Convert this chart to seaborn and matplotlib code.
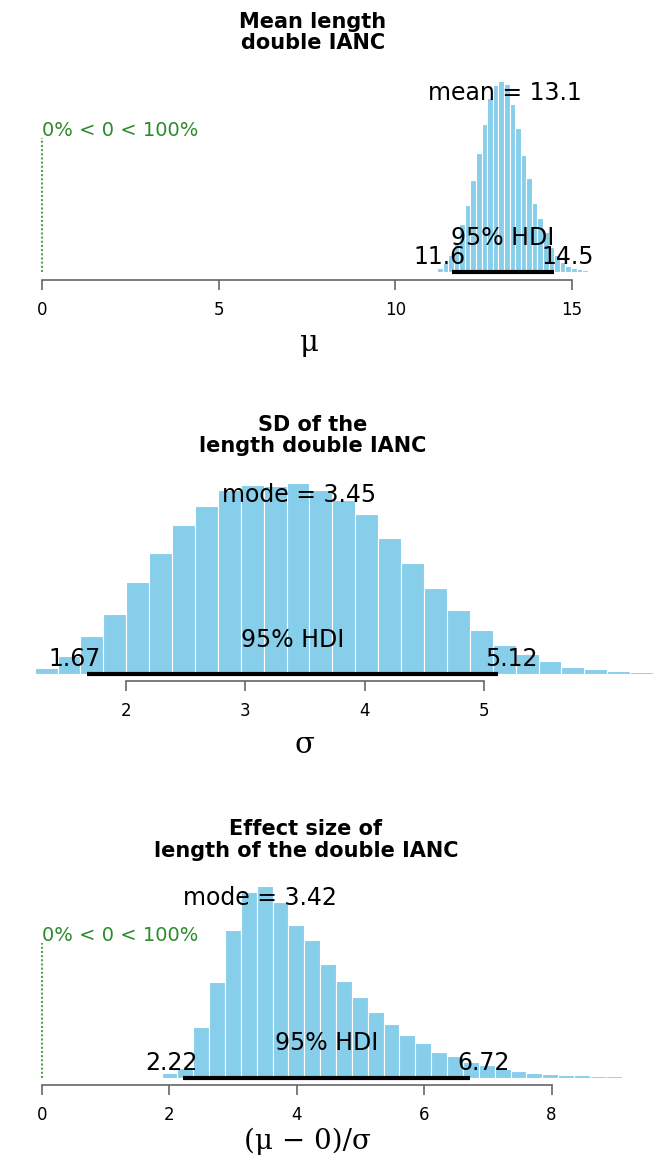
import matplotlib
matplotlib.use('Agg')
import matplotlib.pyplot as plt
import seaborn as sns
import numpy as np
import pandas as pd

# posterior histograms -- bar heights (relative density units)
mu_bin_start = 10.864
mu_bin_width = 0.158
mu_heights = [1, 1.5, 4, 9, 17, 30, 48, 67, 92, 119, 148, 174, 187, 191, 188, 168,
              144, 117, 94, 69, 54, 40, 25, 17, 10, 6, 4, 3, 2.2, 1.5, 1]
mu_mean = 13.1
mu_hdi = [11.6, 14.5]
mu_ticks = [0, 5, 10, 15]

sigma_bin_start = 1.042
sigma_bin_width = 0.192
sigma_heights = [1, 5.5, 18, 38, 59.5, 92, 121, 149, 167.5, 183.5, 189, 187.5, 190.5,
                 183.5, 174, 159.5, 136, 111, 86, 64, 43.5, 28.5, 20, 13, 7, 4.5, 2.2,
                 1.2, 0.8]
sigma_mode = 3.45
sigma_hdi = [1.67, 5.12]
sigma_ticks = [2, 3, 4, 5]

es_bin_start = 1.628
es_bin_width = 0.249
es_heights = [1, 5, 10, 51, 96, 148, 186, 192, 176, 152.5, 137.5, 113.5, 96.5, 81, 66,
              53.5, 42.5, 35, 26, 22, 16, 12.5, 9, 6.5, 5, 4, 3, 2.3, 1.7, 1.2, 0.8, 0.5]
es_mode = 3.42
es_hdi = [2.22, 6.72]
es_ticks = [0, 2, 4, 6, 8]

comp_val = 0
comp_text = '0% < 0 < 100%'

sns.set_theme(style='white')
plt.rcParams['font.family'] = ['DejaVu Sans']
plt.rcParams['text.color'] = 'black'
plt.rcParams['axes.labelcolor'] = 'black'

BAR = '#87CEEB'
GREEN = '#2b8a2b'
AXCOL = '#666666'
W, H = 656, 1160

fig = plt.figure(figsize=(W / 100, H / 100), dpi=100)


def panel(top_px, axis_px, base_off, xlim, bin_start, bin_width, heights, ticks,
          ct_label, ct_val, hdi, title, title_px, title_x, xlabel, xlabel_px, xlabel_x,
          xlabel_size, comp=False):
    ax = fig.add_axes([0, 1 - axis_px / H, 1, (axis_px - top_px) / H])
    edges = bin_start + bin_width * np.arange(len(heights) + 1)
    d = pd.DataFrame({'x': edges[:-1] + bin_width / 2, 'h': heights})
    sns.histplot(data=d, x='x', weights='h', bins=list(edges), color=BAR,
                 edgecolor='white', linewidth=0.8, alpha=1, ax=ax)
    hmax = max(heights)
    ax.set_xlim(xlim)
    ax.set_ylim(-base_off, axis_px - top_px - base_off)
    ax.set_yticks([])
    ax.set_ylabel('')
    for s in ['left', 'right', 'top']:
        ax.spines[s].set_visible(False)
    ax.spines['bottom'].set_bounds(ticks[0], ticks[-1])
    ax.spines['bottom'].set_color(AXCOL)
    ax.spines['bottom'].set_linewidth(1.2)
    ax.set_xticks(ticks)
    ax.set_xticklabels([str(t) for t in ticks])
    ax.tick_params(axis='x', bottom=True, direction='out', length=7, width=1.2,
                   color=AXCOL, labelsize=12, labelcolor='black', pad=8)

    # HDI bar and labels
    ax.plot(hdi, [0, 0], color='black', lw=3, solid_capstyle='butt', zorder=5)
    ax.text(ct_val, 0.9 * hmax, ct_label, ha='center', va='baseline', fontsize=17)
    ax.text(np.mean(hdi), 27, '95% HDI', ha='center', va='baseline', fontsize=17)
    ax.annotate(f'{hdi[0]:g}', xy=(hdi[0], 0), xytext=(-12, 8), textcoords='offset pixels',
                ha='center', va='baseline', fontsize=17)
    ax.annotate(f'{hdi[1]:g}', xy=(hdi[1], 0), xytext=(13, 8), textcoords='offset pixels',
                ha='center', va='baseline', fontsize=17)

    if comp:
        ax.plot([comp_val, comp_val], [0, 0.7 * hmax], color=GREEN, ls=(0, (1, 1)),
                lw=1.5, alpha=0.8)
        ax.text(comp_val, 0.7 * hmax + 2, comp_text, ha='left', va='baseline',
                color=GREEN, fontsize=14)

    ax.set_xlabel(xlabel, fontsize=xlabel_size, family='DejaVu Serif')
    ax.xaxis.label.set_va('center')
    ax.xaxis.set_label_coords(xlabel_x / W, -(xlabel_px - axis_px) / (axis_px - top_px))

    fig.text(title_x / W, 1 - title_px / H, title, ha='center', va='center',
             fontsize=15, fontweight='bold', linespacing=1.1)
    return ax


panel(55, 280, 8, (-42 / 35.33, 614 / 35.33), mu_bin_start, mu_bin_width, mu_heights,
      mu_ticks, f'mean = {mu_mean}', mu_mean, mu_hdi, 'Mean length\ndouble IANC', 32.5, 313,
      'μ', 343, 309, 21, comp=True)

panel(458, 681, 7.5, (2 - 126 / 119.3, 2 + 530 / 119.3), sigma_bin_start, sigma_bin_width,
      sigma_heights, sigma_ticks, f'mode = {sigma_mode}', sigma_mode, sigma_hdi,
      'SD of the\nlength double IANC', 435.5, 313, 'σ', 745, 304, 21)

panel(862, 1085, 7.5, (-42 / 63.7, 614 / 63.7), es_bin_start, es_bin_width, es_heights,
      es_ticks, f'mode = {es_mode}', es_mode, es_hdi,
      'Effect size of\nlength of the double IANC', 840, 306, '(μ − 0)/σ', 1141, 307, 20,
      comp=True)

fig.savefig('out.png', dpi=100)
